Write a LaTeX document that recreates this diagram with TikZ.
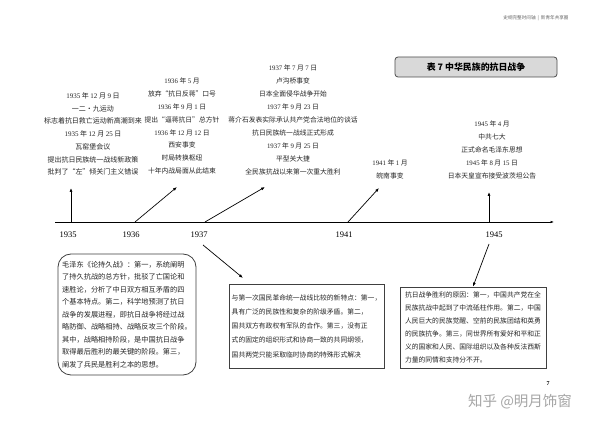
\documentclass[tikz,border=0pt]{standalone}
\usepackage{fontspec}
\setmainfont{Noto Sans CJK SC}
\newfontfamily\serif{Liberation Serif}
\usetikzlibrary{arrows.meta}
\newcommand\numf[1]{{\serif #1}}
\begin{document}
\begin{tikzpicture}[x=1pt,y=-1pt,
  evt/.style={align=center, text=black!85, inner sep=0pt, font=\fontsize{6.8}{12.9}\selectfont},
  arr/.style={-{Latex[length=4pt,width=3pt]}, line width=0.7pt},
  yr/.style={font=\serif\fontsize{8.5}{10}\selectfont, inner sep=0pt},
  txtbox/.style={draw=black!75, line width=0.8pt, align=left, text=black!85, inner sep=0pt}
]
\useasboundingbox[fill=white] (0,0) rectangle (600,427);

% header
\node[font=\fontsize{4.6}{5}\selectfont, text=black!60, inner sep=0] (hdr) at (536,18) {史纲完整时间轴 \ | \ 新青年共享圈};

% title
\node[draw=black!70, fill=black!15, line width=0.8pt, rounded corners=3pt, minimum width=162, minimum height=20, font=\fontsize{8.9}{11}\selectfont\bfseries, inner sep=0] (title) at (476,67) {表 7\ 中华民族的抗日战争};

% timeline
\coordinate (tl) at (55,222);
\coordinate (tr) at (554,222);
\draw[-{Latex[length=3.5pt,width=2.5pt]}, line width=0.6pt] (tl) -- (tr);

% year labels
\node[yr] (y1935) at (68,235) {1935};
\node[yr] (y1936) at (131,235) {1936};
\node[yr] (y1937) at (199,235) {1937};
\node[yr] (y1941) at (344,235) {1941};
\node[yr] (y1945) at (494,235) {1945};

% event groups
\node[evt, font=\fontsize{7}{12.7}\selectfont] (e1935) at (93,134) {\numf{1935} 年 \numf{12} 月 \numf{9} 日\\
一二·九运动\\
标志着抗日救亡运动新高潮到来\\
\numf{1935} 年 \numf{12} 月 \numf{25} 日\\
瓦窑堡会议\\
提出抗日民族统一战线新政策\\
批判了“左”倾关门主义错误};

\node[evt] (e1936) at (182,126) {\numf{1936} 年 \numf{5} 月\\
放弃“抗日反蒋”口号\\
\numf{1936} 年 \numf{9} 月 \numf{1} 日\\
提出“逼蒋抗日”总方针\\
\numf{1936} 年 \numf{12} 月 \numf{12} 日\\
西安事变\\
时局转换枢纽\\
十年内战局面从此结束};

\node[evt] (e1937) at (293,120) {\numf{1937} 年 \numf{7} 月 \numf{7} 日\\
卢沟桥事变\\
日本全面侵华战争开始\\
\numf{1937} 年 \numf{9} 月 \numf{23} 日\\
蒋介石发表实际承认共产党合法地位的谈话\\
抗日民族统一战线正式形成\\
\numf{1937} 年 \numf{9} 月 \numf{25} 日\\
平型关大捷\\
全民族抗战以来第一次重大胜利};

\node[evt] (e1941) at (390,169) {\numf{1941} 年 \numf{1} 月\\
皖南事变};

\node[evt] (e1945) at (492,150) {\numf{1945} 年 \numf{4} 月\\
中共七大\\
正式命名毛泽东思想\\
\numf{1945} 年 \numf{8} 月 \numf{15} 日\\
日本天皇宣布接受波茨坦公告};

% points on timeline and arrow tips
\coordinate (p1935) at (71,222);
\coordinate (p1936) at (135,222);
\coordinate (p1937) at (205,222);
\coordinate (p1941) at (348,222);
\coordinate (p1945) at (489,222);
\coordinate (a1935) at (71,188);
\coordinate (a1936) at (177,187);
\coordinate (a1937) at (265,187);
\coordinate (a1941) at (379,188);
\coordinate (a1945) at (489,192);
\draw[arr] (p1935) -- (a1935);
\draw[arr] (p1936) -- (a1936);
\draw[arr] (p1937) -- (a1937);
\draw[arr] (p1941) -- (a1941);
\draw[arr] (p1945) -- (a1945);

% bottom boxes
\node[txtbox, rounded corners=13pt, minimum width=138, minimum height=121, font=\fontsize{7.2}{12.5}\selectfont] (b1935) at (127,314.5) {毛泽东《论持久战》：第一，系统阐明\\
了持久抗战的总方针，批驳了亡国论和\\
速胜论，分析了中日双方相互矛盾的四\\
个基本特点。第二，科学地预测了抗日\\
战争的发展进程，即抗日战争将经过战\\
略防御、战略相持、战略反攻三个阶段。\\
其中，战略相持阶段，是中国抗日战争\\
取得最后胜利的最关键的阶段。第三，\\
阐发了兵民是胜利之本的思想。};

\node[txtbox, minimum width=155, minimum height=84, font=\fontsize{6.8}{14.2}\selectfont] (b1937) at (306.5,326) {与第一次国民革命统一战线比较的新特点：第一，\\
具有广泛的民族性和复杂的阶级矛盾。第二，\\
国共双方有政权有军队的合作。第三，没有正\\
式的固定的组织形式和协商一致的共同纲领，\\
国共两党只能采取临时协商的特殊形式解决};

\node[txtbox, minimum width=146, minimum height=81, font=\fontsize{6.8}{13}\selectfont] (b1945) at (473,327.5) {抗日战争胜利的原因：第一，中国共产党在全\\
民族抗战中起到了中流砥柱作用。第二，中国\\
人民巨大的民族觉醒、空前的民族团结和英勇\\
的民族抗争。第三，同世界所有爱好和平和正\\
义的国家和人民、国际组织以及各种反法西斯\\
力量的同情和支持分不开。};

\coordinate (d1937) at (203,245);
\coordinate (d1945) at (489,244);
\coordinate (t1937) at (243,278);
\draw[arr] (d1937) -- (t1937);
\draw[arr] (d1945) -- (b1945.north);

% page number and watermark
\node[font=\serif\bfseries\fontsize{6}{7}\selectfont, inner sep=0] (pg) at (548,384) {7};
\node[font=\fontsize{14.5}{16}\selectfont, text=black!35, inner sep=0] (wm) at (520,402) {知乎 @明月饰窗};
\end{tikzpicture}
\end{document}
